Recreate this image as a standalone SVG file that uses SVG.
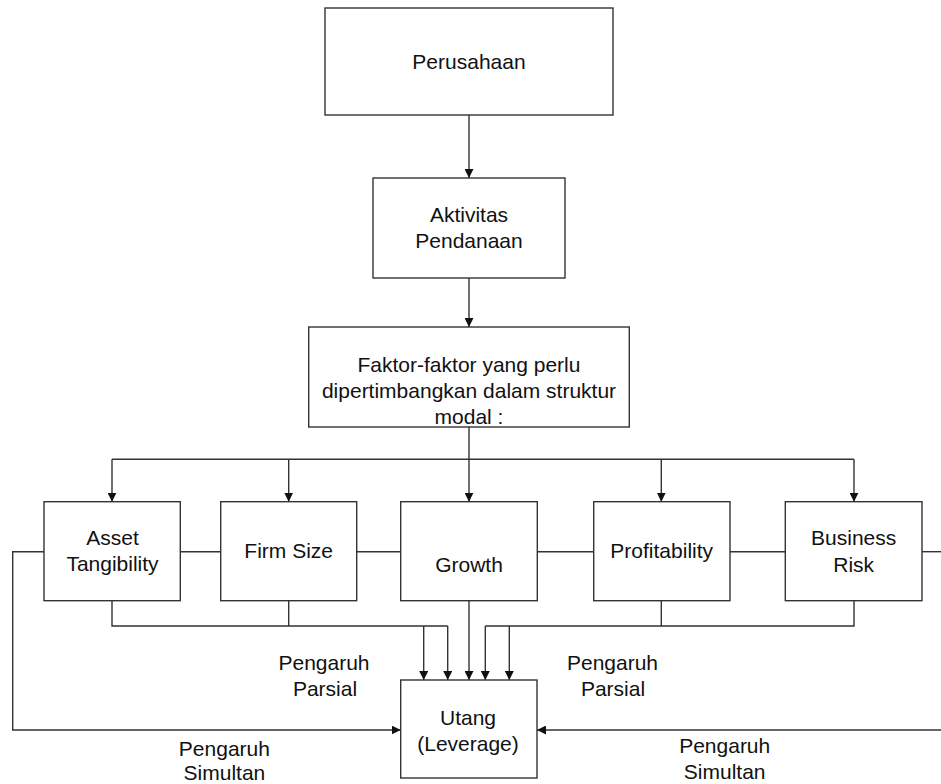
<svg xmlns="http://www.w3.org/2000/svg" width="941" height="784" viewBox="0 0 941 784">
<defs>
<marker id="arr" viewBox="0 0 10 10" refX="10" refY="5" markerWidth="9" markerHeight="9" markerUnits="userSpaceOnUse" orient="auto">
<path d="M0,0 L10,5 L0,10 z" fill="#111"/>
</marker>
<style>
.box{fill:#fff;stroke:#333;stroke-width:1.4}
.ln{fill:none;stroke:#333;stroke-width:1.4}
.ar{fill:none;stroke:#333;stroke-width:1.4;marker-end:url(#arr)}
text{font-family:"Liberation Sans",Arial,sans-serif;font-size:21px;fill:#111;text-anchor:middle}
</style>
</defs>
<rect width="941" height="784" fill="#fff"/>
<g id="connectors">
<path class="ar" d="M469,115 V178"/>
<path class="ar" d="M469,278 V327"/>
<path class="ln" d="M469,427 V459.3"/>
<path class="ln" d="M112,459.3 H854"/>
<path class="ar" d="M112,459.3 V501.7"/>
<path class="ar" d="M288.7,459.3 V501.7"/>
<path class="ar" d="M469,459.3 V501.7"/>
<path class="ar" d="M661.3,459.3 V501.7"/>
<path class="ar" d="M854,459.3 V501.7"/>
<path class="ln" d="M180.3,551.7 H220.7"/>
<path class="ln" d="M356.7,551.7 H404"/>
<path class="ln" d="M533,551.7 H596.7"/>
<path class="ln" d="M726,551.7 H788"/>
<path class="ln" d="M922,551.7 H941"/>
<path class="ln" d="M112,600.7 V626 H447.7"/>
<path class="ln" d="M288.7,600.7 V626"/>
<path class="ar" d="M423.7,626 V680"/>
<path class="ar" d="M447.7,626 V680"/>
<path class="ar" d="M469,601 V680"/>
<path class="ln" d="M854,600.7 V626 H485.3"/>
<path class="ln" d="M661.3,600.7 V626"/>
<path class="ar" d="M485.3,626 V680"/>
<path class="ar" d="M509.3,626 V680"/>
<path class="ar" d="M44,551.7 H12.7 V730 H400.7"/>
<path class="ar" d="M941,730 H537"/>
</g>
<g id="perusahaan">
<rect class="box" x="325" y="8" width="288" height="107"/>
<text x="469" y="69">Perusahaan</text>
</g>
<g id="aktivitas">
<rect class="box" x="373" y="178" width="192" height="100"/>
<text x="469" y="221.5">Aktivitas</text>
<text x="469" y="248">Pendanaan</text>
</g>
<g id="faktor">
<rect class="box" x="308.7" y="327" width="320.6" height="100"/>
<text x="469" y="371.5">Faktor-faktor yang perlu</text>
<text x="469" y="397.5">dipertimbangkan dalam struktur</text>
<text x="469" y="424">modal :</text>
</g>
<g id="asset">
<rect class="box" x="44" y="501.7" width="136.3" height="99"/>
<text x="112.5" y="545">Asset</text>
<text x="112.5" y="571">Tangibility</text>
</g>
<g id="firmsize">
<rect class="box" x="220.7" y="501.7" width="136" height="99"/>
<text x="288.7" y="558.3">Firm Size</text>
</g>
<g id="growth">
<rect class="box" x="400.7" y="501.7" width="136.6" height="99"/>
<text x="469" y="571.5">Growth</text>
</g>
<g id="profitability">
<rect class="box" x="593.7" y="501.7" width="136.3" height="99"/>
<text x="661.7" y="558.3">Profitability</text>
</g>
<g id="businessrisk">
<rect class="box" x="785.3" y="501.7" width="136.7" height="99"/>
<text x="853.7" y="545">Business</text>
<text x="853.7" y="571.5">Risk</text>
</g>
<g id="utang">
<rect class="box" x="400.7" y="680" width="136.3" height="98"/>
<text x="468" y="725">Utang</text>
<text x="468" y="751">(Leverage)</text>
</g>
<g id="labels">
<text x="324" y="670">Pengaruh</text>
<text x="325" y="696">Parsial</text>
<text x="612.5" y="670">Pengaruh</text>
<text x="613" y="696">Parsial</text>
<text x="224.4" y="756">Pengaruh</text>
<text x="224.4" y="780">Simultan</text>
<text x="724.7" y="753">Pengaruh</text>
<text x="724.7" y="778.5">Simultan</text>
</g>
</svg>
